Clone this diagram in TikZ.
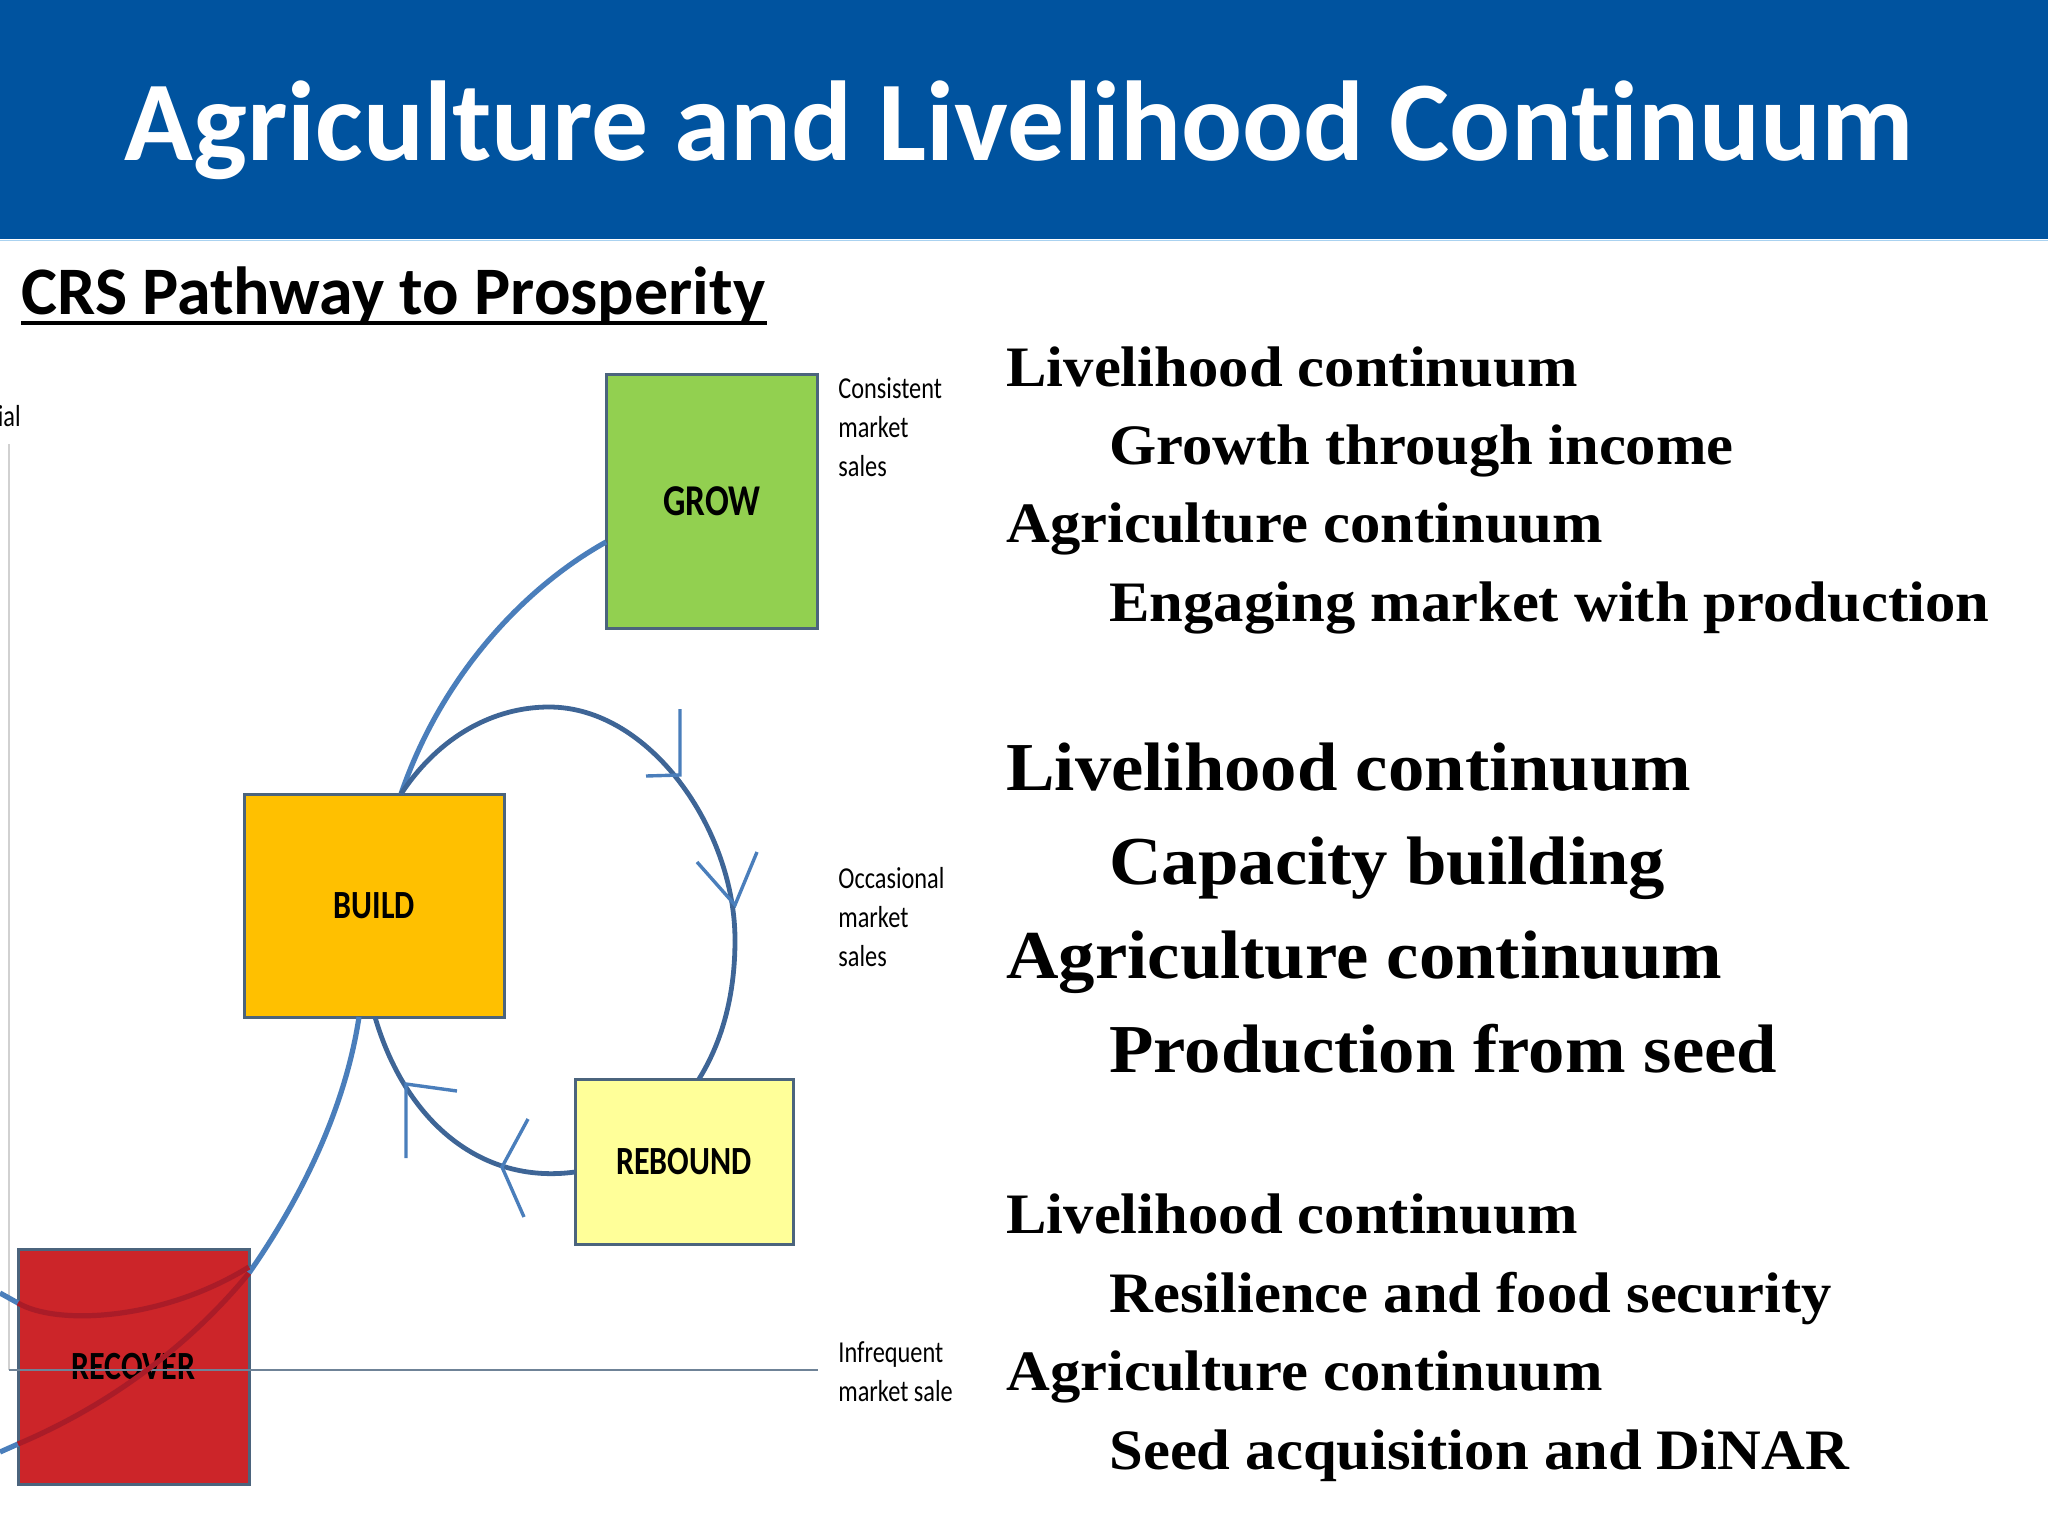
\documentclass[tikz,border=0pt]{standalone}
\usepackage{xcolor}
\usepackage{fontspec}
\usepackage{tikz}
\usetikzlibrary{positioning}
\setmainfont[FakeStretch=1.06]{Liberation Serif}
\newfontfamily\headfont[Ligatures=NoCommon]{Carlito}
\newfontfamily\thinfont[FakeStretch=0.8]{Carlito}
\definecolor{bandblue}{RGB}{0,83,159}
\definecolor{paleblue}{RGB}{170,210,240}
\definecolor{curveblue}{RGB}{74,126,187}
\definecolor{arcblue}{RGB}{62,101,150}
\definecolor{boxedge}{RGB}{75,100,125}
\definecolor{growgreen}{RGB}{146,208,80}
\definecolor{buildorange}{RGB}{255,192,0}
\definecolor{reboundyellow}{RGB}{255,255,153}
\definecolor{recoverred}{RGB}{204,37,41}
\definecolor{insidered}{RGB}{170,28,40}
\tikzset{
  stagebox/.style={rectangle,draw=boxedge,line width=1.5pt,inner sep=0pt,font=\thinfont\bfseries\fontsize{20}{20}\selectfont},
  sidenote/.style={anchor=base west,inner sep=0pt,font=\thinfont\fontsize{15.2}{15.2}\selectfont},
  smallline/.style={anchor=base west,inner sep=0pt,font=\bfseries\fontsize{28.6}{28.6}\selectfont},
  bigline/.style={anchor=base west,inner sep=0pt,font=\bfseries\fontsize{34.3}{34.3}\selectfont},
  curveline/.style={draw=curveblue,line width=2.6pt},
  arcline/.style={draw=arcblue,line width=2.4pt},
  redline/.style={draw=insidered,line width=2.6pt},
  barbline/.style={draw=curveblue,line width=1.7pt}
}
\begin{document}
\begin{tikzpicture}[x=0.5pt,y=-0.5pt]
  \useasboundingbox (0,0) rectangle (2048,1536);
  \fill[bandblue] (0,0) rectangle (2048,239);
  \draw[paleblue,line width=0.5pt] (0,240) -- (2048,240);
  \node[anchor=base,inner sep=0pt,text=white,font=\headfont\bfseries\fontsize{56.8}{56.8}\selectfont] (title) at (1019,160) {Agriculture and Livelihood Continuum};
  \node[anchor=base west,inner sep=0pt,font=\headfont\bfseries\fontsize{34}{34}\selectfont] (subtitle) at (21,314) {CRS Pathway to Prosperity};
  \coordinate (ruleL) at (21,323);
  \coordinate (ruleR) at (767,323);
  \draw[black,line width=2pt] (ruleL) -- (ruleR);

  \begin{scope}[every node/.style={stagebox}]
    \node[fill=growgreen,minimum width=105.5pt,minimum height=127pt,font=\thinfont\bfseries\fontsize{22}{22}\selectfont] (grow) at (712,501) {GROW};
    \node[fill=buildorange,minimum width=130pt,minimum height=111.5pt] (build) at (374.5,905.5) {BUILD};
    \node[fill=reboundyellow,minimum width=109pt,minimum height=82.5pt] (rebound) at (684,1162) {REBOUND};
    \node[fill=recoverred,minimum width=115.5pt,minimum height=117.5pt] (recover) at (133.5,1366.5) {RECOVER};
  \end{scope}

  \coordinate (axisT) at (9,444);
  \coordinate (axisB) at (9,1370);
  \coordinate (baseR) at (818,1370);
  \draw[black!18,line width=1pt] (axisT) -- (axisB);
  \draw[boxedge!80,line width=0.75pt] (axisB) -- (baseR);

  % free ends and the points where the curves meet the boxes
  \coordinate (lowL) at (0,1452);
  \coordinate (lowIn) at (18,1444);
  \coordinate (lowOut) at (249,1273);
  \coordinate (dipL) at (0,1293);
  \coordinate (dipIn) at (18,1303);
  \coordinate (dipOut) at (249,1267);
  \coordinate (buildB) at (359,1017);
  \coordinate (buildT) at (401,794);
  \coordinate (growL) at (606,542);
  \coordinate (apex) at (549,707);
  \coordinate (arcR) at (735,940);
  \coordinate (reboundT) at (699,1079);
  \coordinate (buildC) at (375,1017);
  \coordinate (reboundL) at (575,1172);

  \draw[curveline] (lowL) -- (lowIn);
  \draw[redline] (lowIn) .. controls (110,1405) and (190,1345) .. (lowOut);
  \draw[curveline] (lowOut) .. controls (300,1200) and (345,1110) .. (buildB);
  \draw[curveline] (dipL) -- (dipIn);
  \draw[redline] (dipIn) .. controls (55,1325) and (160,1322) .. (dipOut);
  \draw[curveline] (buildT) .. controls (440,680) and (520,590) .. (growL);
  \draw[arcline] (buildT) .. controls (440,735) and (495,707) .. (apex);
  \draw[arcline] (apex) .. controls (650,707) and (735,830) .. (arcR);
  \draw[arcline] (arcR) .. controls (735,1000) and (720,1045) .. (reboundT);
  \draw[arcline] (reboundL) .. controls (480,1185) and (405,1120) .. (buildC);

  % the hand drawn arrow heads
  \coordinate (tipA) at (680,775);
  \coordinate (tipAa) at (680,709);
  \coordinate (tipAb) at (646,776);
  \coordinate (tipB) at (735,905);
  \coordinate (tipBa) at (697,862);
  \coordinate (tipBb) at (757,852);
  \coordinate (tipC) at (406,1084);
  \coordinate (tipCa) at (406,1158);
  \coordinate (tipCb) at (457,1091);
  \coordinate (tipD) at (502,1167);
  \coordinate (tipDa) at (528,1119);
  \coordinate (tipDb) at (524,1217);
  \foreach \s in {A,B,C,D}
  {
    \draw[barbline] (tip\s a) -- (tip\s) -- (tip\s b);
  }

  \node[anchor=base east,inner sep=0pt,font=\thinfont\fontsize{15.2}{15.2}\selectfont] (axisnote) at (21,426) {ial};
  \node[sidenote] (noteA) at (838,398) {Consistent};
  \node[sidenote] (noteB) at (838,437) {market};
  \node[sidenote] (noteC) at (838,476) {sales};
  \node[sidenote] (noteD) at (838,888) {Occasional};
  \node[sidenote] (noteE) at (838,927) {market};
  \node[sidenote] (noteF) at (838,966) {sales};
  \node[sidenote] (noteG) at (838,1362) {Infrequent};
  \node[sidenote] (noteH) at (838,1401) {market sale};

  \node[smallline] (rowA) at (1006,386) {Livelihood continuum};
  \node[smallline] (rowB) at (1109,464) {Growth through income};
  \node[smallline] (rowC) at (1006,542) {Agriculture continuum};
  \node[smallline] (rowD) at (1109,621) {Engaging market with production};
  \node[bigline] (rowE) at (1006,790) {Livelihood continuum};
  \node[bigline] (rowF) at (1109,884) {Capacity building};
  \node[bigline] (rowG) at (1006,978) {Agriculture continuum};
  \node[bigline] (rowH) at (1109,1072) {Production from seed};
  \node[smallline] (rowI) at (1006,1233) {Livelihood continuum};
  \node[smallline] (rowJ) at (1109,1312) {Resilience and food security};
  \node[smallline] (rowK) at (1006,1390) {Agriculture continuum};
  \node[smallline] (rowL) at (1109,1469) {Seed acquisition and DiNAR};
\end{tikzpicture}
\end{document}
